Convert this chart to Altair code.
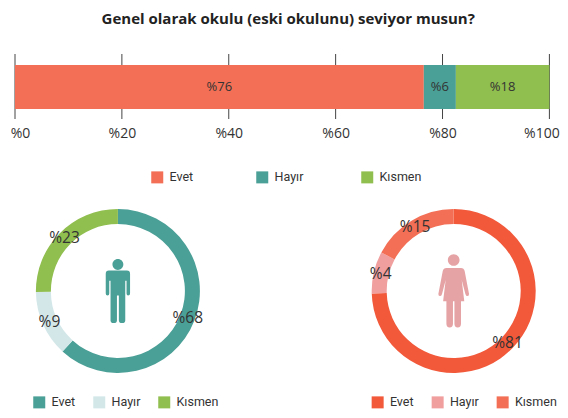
import altair as alt
import pandas as pd

categories = ["Evet", "Hayır", "Kısmen"]
bar_values = [76.5, 6, 17.5]
bar_labels = ["%76", "%6", "%18"]
bar_colors = ["#F36F55", "#4A9F96", "#90BE4F"]
tick_values = [0, 20, 40, 60, 80, 100]

man_shares = [61.8, 13, 25.2]
man_labels = ["%68", "%9", "%23"]
man_colors = ["#4A9F96", "#D3E7E9", "#90BE4F"]

woman_shares = [74.5, 8.3, 17.2]
woman_labels = ["%81", "%4", "%15"]
woman_colors = ["#F2583A", "#F19E9E", "#F36F55"]

TITLE = "Genel olarak okulu (eski okulunu) seviyor musun?"
FONT = "Open Sans"
NARROW = "Roboto"
INK = "#333333"

MAN = ("M-0.17,-0.83 A0.17,0.17 0 1 1 0.17,-0.83 A0.17,0.17 0 1 1 -0.17,-0.83 Z "
       "M-0.28,-0.64 L0.28,-0.64 Q0.38,-0.64 0.38,-0.54 L0.38,0.08 Q0.38,0.14 0.32,0.14 "
       "Q0.27,0.14 0.27,0.08 L0.27,-0.32 L0.23,-0.32 L0.23,0.92 Q0.23,1 0.13,1 Q0.03,1 0.03,0.92 "
       "L0.03,0.14 L-0.03,0.14 L-0.03,0.92 Q-0.03,1 -0.13,1 Q-0.23,1 -0.23,0.92 L-0.23,-0.32 "
       "L-0.27,-0.32 L-0.27,0.08 Q-0.27,0.14 -0.32,0.14 Q-0.38,0.14 -0.38,0.08 L-0.38,-0.54 "
       "Q-0.38,-0.64 -0.28,-0.64 Z")
WOMAN = ("M-0.16,-0.85 A0.16,0.16 0 1 1 0.16,-0.85 A0.16,0.16 0 1 1 -0.16,-0.85 Z "
         "M-0.2,-0.63 L0.2,-0.63 Q0.28,-0.63 0.3,-0.55 L0.42,0.08 Q0.42,0.14 0.37,0.14 "
         "Q0.34,0.14 0.32,0.08 L0.22,-0.3 L0.29,0.28 L0.2,0.28 L0.2,0.9 Q0.2,1 0.11,1 Q0.02,1 0.02,0.9 "
         "L0.02,0.28 L-0.02,0.28 L-0.02,0.9 Q-0.02,1 -0.11,1 Q-0.2,1 -0.2,0.9 L-0.2,0.28 L-0.29,0.28 "
         "L-0.22,-0.3 L-0.32,0.08 Q-0.34,0.14 -0.37,0.14 Q-0.42,0.14 -0.42,0.08 L-0.3,-0.55 "
         "Q-0.28,-0.63 -0.2,-0.63 Z")


def frame(values, labels):
    return pd.DataFrame({"idx": range(len(categories)), "cat": categories,
                         "value": values, "label": labels})


def color_enc(colors, legend_x, legend_y, pad, align):
    return alt.Color(
        "cat:N",
        sort=None,
        scale=alt.Scale(domain=categories, range=colors),
        legend=alt.Legend(
            title=None, orient="none", legendX=legend_x, legendY=legend_y,
            direction="horizontal", columns=3, symbolType="square", symbolSize=144,
            symbolStrokeWidth=0, labelFont=NARROW, labelFontSize=12.5, labelColor=INK,
            columnPadding=pad, labelOffset=6, gridAlign=align,
        ),
    )


bar_df = frame(bar_values, bar_labels)
x_scale = alt.Scale(domain=[0, 100], nice=False)
ticks = alt.Chart(pd.DataFrame({"tick": tick_values})).mark_rule(
    color="#444444", strokeWidth=1
).encode(
    x=alt.X(
        "tick:Q", scale=x_scale,
        axis=alt.Axis(
            title=None, values=tick_values, domain=False, ticks=False, grid=False,
            labelFont=FONT, labelFontSize=14, labelColor=INK, labelPadding=17,
            labelFlush=False, labelExpr="'%' + datum.value",
            labelOffset=alt.expr("datum.value == 0 ? 5 : (datum.value == 100 ? -8 : 0)"),
        ),
    ),
    y=alt.value(-11), y2=alt.value(54),
)
bars = alt.Chart(bar_df).mark_bar(size=44).encode(
    x=alt.X("value:Q", stack="zero", scale=x_scale, title=None),
    order=alt.Order("idx:O"),
    color=color_enc(bar_colors, 136, 106, 44, "all"),
)
bar_text = alt.Chart(bar_df).transform_window(
    end="sum(value)", sort=[alt.SortField("idx")]
).transform_calculate(mid="datum.end - datum.value / 2").mark_text(
    font=FONT, fontSize=13, color=INK
).encode(
    x=alt.X("mid:Q", scale=x_scale, title=None),
    text="label:N",
)
top = alt.layer(ticks, bars, bar_text).properties(
    width=534.4, height=44,
    title=alt.TitleParams(TITLE, font=FONT, fontSize=15, fontWeight="bold",
                          color="#222222", anchor="middle", dx=6, offset=27),
)


def donut(df, colors, shape, icon_color, icon_size, legend_x):
    theta = alt.Theta("value:Q", stack=True, scale=alt.Scale(domain=[0, 100]))
    ring = alt.Chart(df).mark_arc(outerRadius=82, innerRadius=67).encode(
        theta=theta, order=alt.Order("idx:O"),
        color=color_enc(colors, legend_x, 187, 17, "each"),
    )
    text = alt.Chart(df).mark_text(radius=75, font=FONT, fontSize=15.5, color=INK).encode(
        theta=theta, order=alt.Order("idx:O"), text="label:N",
    )
    icon = alt.Chart(pd.DataFrame({"icon": ["person"]})).mark_point(
        shape=shape, filled=True, opacity=1, strokeWidth=0, color=icon_color, size=icon_size
    ).encode(detail="icon:N")
    return alt.layer(ring, text, icon).properties(width=205.8, height=164)


left = donut(frame(man_shares, man_labels), man_colors, MAN, "#4A9F96", 4096, 18)
right = donut(frame(woman_shares, woman_labels), woman_colors, WOMAN, "#E6A3A5", 5329, 20.6)

bottom = alt.hconcat(left, right, spacing=129.8, bounds="flush").resolve_scale(color="independent")
chart = alt.vconcat(top, bottom, spacing=100, bounds="flush").resolve_scale(
    color="independent"
).properties(padding={"left": 2, "top": 3, "right": 0, "bottom": 0}).configure_view(stroke=None)

chart.save("out.html", embed_options={"renderer": "svg", "actions": False})
